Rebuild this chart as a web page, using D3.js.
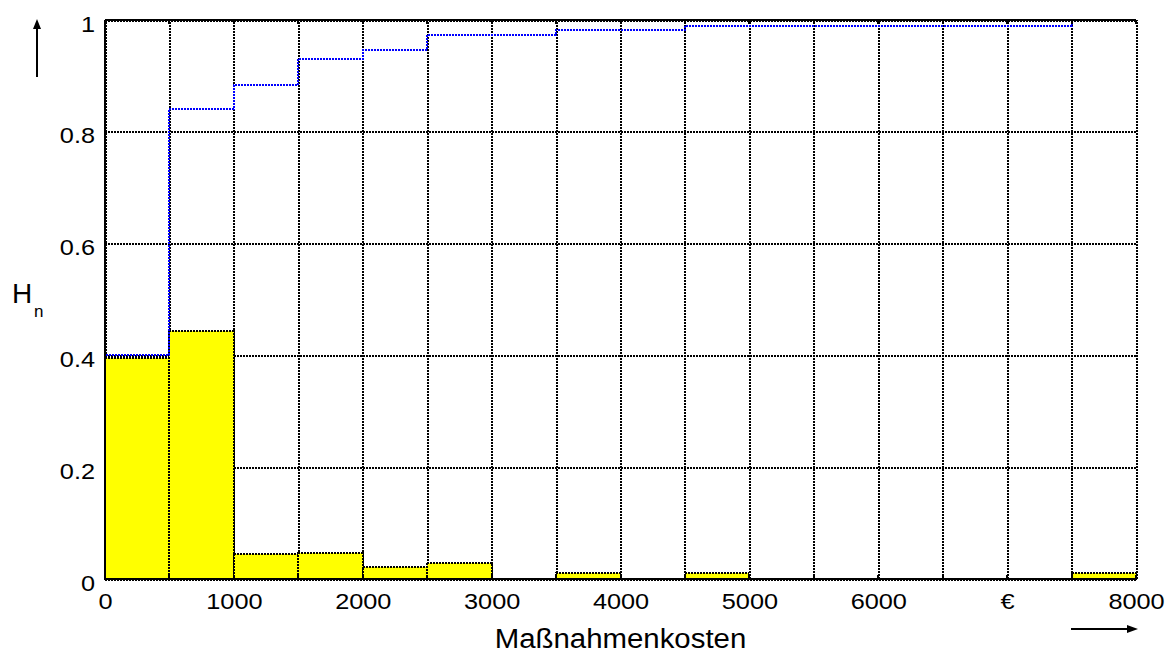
<!DOCTYPE html>
<html>
<head>
<meta charset="utf-8">
<script src="https://cdn.jsdelivr.net/npm/d3@7"></script>
<style>
  body { margin: 0; background: #fff; }
  text { font-family: "Liberation Sans", Arial, sans-serif; fill: #000; }
</style>
</head>
<body>
<div id="chart"></div>
<script>
// histogram of Maßnahmenkosten (bins of 500 €)
var binStarts = [0, 500, 1000, 1500, 2000, 2500, 3000, 3500, 4000, 4500, 5000, 5500, 6000, 6500, 7000, 7500]
var binWidth = 500
var shares = [0.395, 0.443, 0.045, 0.046, 0.021, 0.029, 0, 0.011, 0, 0.011, 0, 0, 0, 0, 0, 0.01]
var cumShares = [0.40, 0.84, 0.883, 0.93, 0.947, 0.973, 0.973, 0.983, 0.983, 0.99, 0.99, 0.99, 0.99, 0.99, 0.99, 1.0]
var xTicks = [0, 1000, 2000, 3000, 4000, 5000, 6000, 7000, 8000]
var xTickLabels = ['0', '1000', '2000', '3000', '4000', '5000', '6000', '€', '8000']
var xGrid = [0, 500, 1000, 1500, 2000, 2500, 3000, 3500, 4000, 4500, 5000, 5500, 6000, 6500, 7000, 7500, 8000]
var yTicks = [0, 0.2, 0.4, 0.6, 0.8, 1]
var yTickLabels = ['0', '0.2', '0.4', '0.6', '0.8', '1']

;(function() {
  var
    W = 1171,
    H = 653,
    LEFT = 105,
    RIGHT = 1136,
    TOP = 20,
    BOTTOM = 579,
    STRETCH = 'scale(1.15,1)',
    DOTS = '2,1'

  var svg = d3.select('#chart').append('svg')
    .attr('width', W).attr('height', H)

  var x = d3.scaleLinear().domain([0, 8000]).range([LEFT, RIGHT])
  var y = d3.scaleLinear().domain([0, 1]).range([BOTTOM, TOP])

  function dotted(g) {
    g.select('.domain').remove()
    g.selectAll('line')
      .attr('stroke', '#000')
      .attr('stroke-width', 2)
      .attr('stroke-dasharray', DOTS)
      .attr('shape-rendering', 'crispEdges')
  }

  // grid (beneath bars)
  var grid = svg.append('g')
  grid.append('g')
    .attr('transform', 'translate(0,' + BOTTOM + ')')
    .call(d3.axisBottom(x).tickValues(xGrid).tickSize(-(BOTTOM - TOP)).tickFormat(''))
    .call(dotted)
  grid.append('g')
    .attr('transform', 'translate(' + LEFT + ',0)')
    .call(d3.axisLeft(y).tickValues(yTicks).tickSize(-(RIGHT - LEFT)).tickFormat(''))
    .call(dotted)

  // bars
  var bars = binStarts.map(function(s, i) { return { x0: s, x1: s + binWidth, v: shares[i] } })
    .filter(function(d) { return d.v > 0 })
  svg.append('g').selectAll('rect')
    .data(bars)
    .enter()
    .append('rect')
    .attr('x', function(d) { return x(d.x0) })
    .attr('y', function(d) { return y(d.v) })
    .attr('width', function(d) { return x(d.x1) - x(d.x0) })
    .attr('height', function(d) { return y(0) - y(d.v) })
    .attr('fill', '#ffff00')
    .attr('stroke', '#000')
    .attr('stroke-width', 2)
    .attr('stroke-dasharray', DOTS)
    .attr('shape-rendering', 'crispEdges')

  // cumulative stairs
  var pts = [[0, 0]]
  binStarts.forEach(function(s, i) {
    pts.push([s, cumShares[i]])
    pts.push([s + binWidth, cumShares[i]])
  })
  var line = d3.line()
    .x(function(d) { return x(d[0]) })
    .y(function(d) { return y(d[1]) })
  svg.append('path')
    .attr('d', line(pts))
    .attr('fill', 'none')
    .attr('stroke', '#0000ff')
    .attr('stroke-width', 2)
    .attr('stroke-dasharray', '2,1')
    .attr('shape-rendering', 'crispEdges')

  // box
  svg.append('path')
    .attr('d', 'M' + LEFT + ' ' + TOP + 'H' + RIGHT + 'M' + LEFT + ' ' + BOTTOM + 'H' + RIGHT + 'M' + LEFT + ' ' + TOP + 'V' + BOTTOM)
    .attr('stroke', '#000').attr('stroke-width', 2).attr('fill', 'none')
    .attr('shape-rendering', 'crispEdges')

  // small ticks, top and bottom
  svg.append('g').selectAll('path')
    .data(xGrid)
    .enter()
    .append('path')
    .attr('d', function(d) { return 'M' + x(d) + ' ' + BOTTOM + 'v-4M' + x(d) + ' ' + TOP + 'v4' })
    .attr('stroke', '#000').attr('stroke-width', 2)
    .attr('shape-rendering', 'crispEdges')

  // tick labels
  svg.append('g')
    .attr('transform', 'translate(0,' + BOTTOM + ')')
    .call(d3.axisBottom(x).tickValues(xTicks).tickSize(0).tickPadding(14)
      .tickFormat(function(d, i) { return xTickLabels[i] }))
    .call(function(g) {
      g.select('.domain').remove()
      g.selectAll('text').attr('font-size', 22).attr('transform', STRETCH)
    })
  svg.append('g')
    .attr('transform', 'translate(' + LEFT + ',0)')
    .call(d3.axisLeft(y).tickValues(yTicks).tickSize(0).tickPadding(8.7)
      .tickFormat(function(d, i) { return yTickLabels[i] }))
    .call(function(g) {
      g.select('.domain').remove()
      g.selectAll('text').attr('font-size', 22).attr('dy', '0.5em').attr('transform', STRETCH)
    })

  // axis titles
  svg.append('text')
    .text('Maßnahmenkosten')
    .attr('font-size', 28)
    .attr('text-anchor', 'middle')
    .attr('transform', 'translate(' + (LEFT + RIGHT) / 2 + ' 648) scale(1.05,1)')
  svg.append('text').text('H').attr('font-size', 28).attr('x', 12).attr('y', 303)
  svg.append('text').text('n').attr('font-size', 17).attr('x', 34).attr('y', 317)

  // arrows
  var arrows = svg.append('g').attr('fill', '#000').attr('stroke', '#000')
  arrows.append('path').attr('d', 'M37 77V26').attr('stroke-width', 2)
  arrows.append('path').attr('d', 'M37 19L33 29L41 29Z').attr('stroke', 'none')
  arrows.append('path').attr('d', 'M1071 629H1130').attr('stroke-width', 2)
  arrows.append('path').attr('d', 'M1138 629L1127 625L1127 633Z').attr('stroke', 'none')
})()
</script>
</body>
</html>
